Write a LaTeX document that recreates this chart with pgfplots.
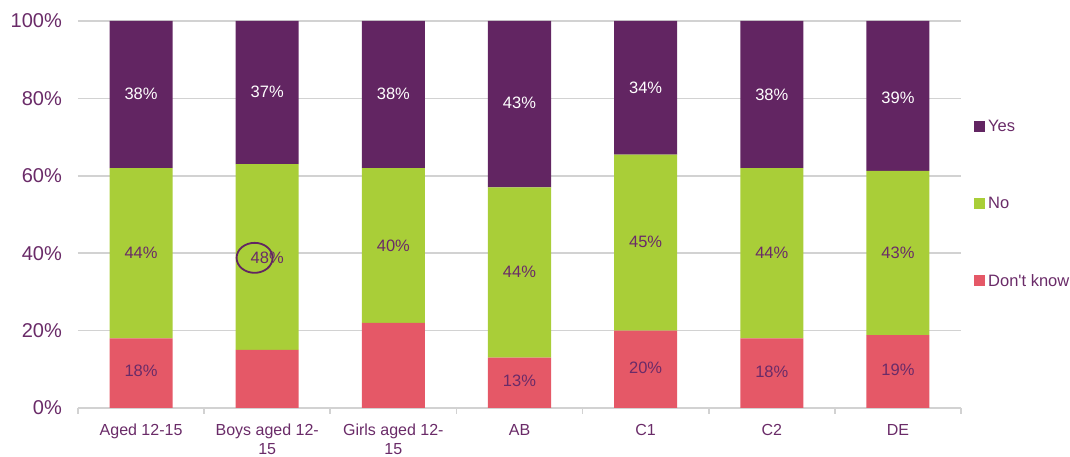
\documentclass[border=0pt]{standalone}
\usepackage{pgfplots}
\pgfplotsset{compat=1.18}
\usepackage{fontspec}
\setmainfont{Liberation Sans}

\definecolor{yescol}{HTML}{622562}
\definecolor{nocol}{HTML}{A9CE38}
\definecolor{dkcol}{HTML}{E55867}
\definecolor{txt}{HTML}{6A2B68}
\definecolor{gridc}{HTML}{D2D2D2}

\begin{document}
\begin{tikzpicture}
	\path[use as bounding box] (-78pt,-49pt) rectangle (992pt,408pt);
	\begin{axis}[
			scale only axis,
			width=883pt,
			height=387pt,
			xmin=-0.5, xmax=6.5,
			ymin=0, ymax=100,
			ybar stacked,
			bar width=0.5,
			axis x line*=bottom,
			axis y line*=left,
			x axis line style={-, draw=gridc, line width=1.6pt},
			y axis line style={draw=none},
			ytick={0,20,...,100},
			/pgf/number format/assume math mode=true,
			yticklabel={\pgfmathprintnumber{\tick}\%},
			ymajorgrids,
			major grid style={gridc, line width=1.6pt},
			xtick={0,...,6},
			xticklabels={Aged 12-15,{Boys aged 12-\\15},{Girls aged 12-\\15},AB,C1,C2,DE},
			minor xtick={-0.5,0.5,...,6.5},
			major tick length=0pt,
			minor tick length=6pt,
			tick align=outside,
			minor tick style={gridc, line width=1.6pt},
			yticklabel style={font=\fontsize{20}{24}\selectfont, text=txt, inner sep=0pt, xshift=-16pt},
			xticklabel style={font=\fontsize{16}{19}\selectfont, text=txt, align=center, inner sep=0pt, yshift=-16pt},
			legend image code/.code={\fill[#1, draw=none] (0pt,-5.5pt) rectangle (11pt,5.5pt); \path (14pt,0pt);},
			reverse legend,
			legend style={
					at={(1,0.527)}, anchor=west, xshift=13pt,
					draw=none, fill=none, inner sep=0pt,
					row sep=64pt,
					font=\fontsize{16.5}{19}\selectfont, text=txt,
					nodes={inner sep=0pt, outer sep=0pt},
				},
			legend cell align=left,
		]
		% Don't know
		\addplot[fill=dkcol, draw=none] coordinates {
				(0,18) (1,15) (2,22) (3,13) (4,20) (5,18) (6,18.8)
			};
		% No
		\addplot[fill=nocol, draw=none] coordinates {
				(0,44) (1,48) (2,40) (3,44) (4,45.5) (5,44) (6,42.5)
			};
		% Yes
		\addplot[fill=yescol, draw=none] coordinates {
				(0,38) (1,37) (2,38) (3,43) (4,34.5) (5,38) (6,38.7)
			};
		\legend{Don\textquotesingle t know,No,Yes}
	\end{axis}

	% value labels
	\begin{axis}[
			scale only axis,
			width=883pt,
			height=387pt,
			xmin=-0.5, xmax=6.5,
			ymin=0, ymax=100,
			hide axis,
			nodes near coords,
			point meta=explicit symbolic,
			every node near coord/.append style={anchor=center, font=\fontsize{16.5}{19}\selectfont},
		]
		\addplot[only marks, mark=none, nodes near coords style={text=white}] coordinates {
				(0,81.2) [38\%] (1,81.7) [37\%] (2,81.2) [38\%] (3,78.9) [43\%]
				(4,82.7) [34\%] (5,80.9) [38\%] (6,80.2) [39\%]
			};
		\addplot[only marks, mark=none, nodes near coords style={text=txt}] coordinates {
				(0,40.2) [44\%] (1,38.9) [48\%] (2,42.0) [40\%] (3,35.3) [44\%]
				(4,43.0) [45\%] (5,40.2) [44\%] (6,40.2) [43\%]
			};
		\addplot[only marks, mark=none, nodes near coords style={text=txt}] coordinates {
				(0,9.5) [18\%] (3,7.0) [13\%] (4,10.3) [20\%] (5,9.3) [18\%] (6,9.8) [19\%]
			};
		\draw[yescol, line width=1.8pt] (axis cs:0.9,38.8) ellipse [x radius=18pt, y radius=15pt];
	\end{axis}
\end{tikzpicture}
\end{document}
